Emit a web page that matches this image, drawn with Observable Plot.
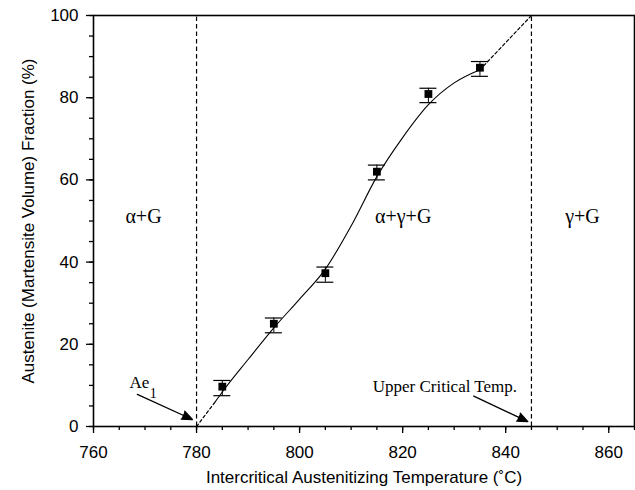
<!DOCTYPE html>
<html>
<head>
<meta charset="utf-8">
<script src="https://cdn.jsdelivr.net/npm/d3@7"></script>
<script src="https://cdn.jsdelivr.net/npm/@observablehq/plot@0.6"></script>
<style>
  html, body { margin: 0; padding: 0; background: #fff; }
  #chart svg { display: block; }
</style>
</head>
<body>
<div id="chart"></div>
<script>
// Measured data (temperature in °C, austenite fraction in %)
const temps = [785, 795, 805, 815, 825, 835];
const fraction = [9.7, 25.0, 37.3, 62.0, 80.9, 87.3];
const errHi = [11.2, 26.4, 38.8, 63.6, 82.3, 88.8];
const errLo = [7.5, 22.8, 35.1, 60.0, 78.8, 85.2];

// Fitted curve
const curveT = [783.5, 785, 790, 795, 800, 805, 810, 815, 820, 825, 830, 835];
const curveV = [5.8, 8.4, 16.3, 24.0, 31.0, 38.3, 48.8, 60.8, 70.3, 78.3, 83.6, 86.8];

// Extrapolated dotted segments
const dotLowT = [780, 783.5];
const dotLowV = [0, 5.8];
const dotHighT = [835, 845];
const dotHighV = [86.8, 100];

// Phase boundaries
const boundaries = [780, 845];

// Region labels
const regionLabels = ["α+G", "α+γ+G", "γ+G"];
const regionT = [769.7, 820.1, 854.9];
const regionV = [51, 51, 51];

// Arrow annotations
const arrowT1 = [768.5, 833.8];
const arrowV1 = [7.8, 7.4];
const arrowT2 = [779.2, 844.3];
const arrowV2 = [1.7, 1.2];

// Annotation text
const annText = ["Ae", "1", "Upper Critical Temp."];
const annT = [768.9, 771.6, 828.2];
const annV = [10.8, 8.0, 9.6];
const annSize = [17, 14, 17];

const xMajor = d3.range(760, 861, 20);
const xMinor = d3.range(760, 866, 5);
const yMajor = d3.range(0, 101, 20);
const yMinor = d3.range(0, 101, 5);

const points = temps.map((t, i) => ({t, v: fraction[i], hi: errHi[i], lo: errLo[i]}));
const curve = curveT.map((t, i) => ({t, v: curveV[i]}));
const dotLow = dotLowT.map((t, i) => ({t, v: dotLowV[i]}));
const dotHigh = dotHighT.map((t, i) => ({t, v: dotHighV[i]}));
const regions = regionLabels.map((s, i) => ({s, t: regionT[i], v: regionV[i]}));
const arrows = arrowT1.map((t, i) => ({t1: t, v1: arrowV1[i], t2: arrowT2[i], v2: arrowV2[i]}));
const anns = annText.map((s, i) => ({s, t: annT[i], v: annV[i], size: annSize[i]}));
const capHalf = 1.65;

const serif = "'Liberation Serif', 'Times New Roman', serif";
const sans = "'Liberation Sans', Arial, Helvetica, sans-serif";

const plot = Plot.plot({
  width: 635,
  height: 490,
  marginLeft: 93,
  marginRight: 1,
  marginTop: 15,
  marginBottom: 64,
  style: {fontFamily: sans, fontSize: "16.5px", color: "black", background: "white"},
  x: {domain: [760, 865]},
  y: {domain: [0, 100]},
  marks: [
    Plot.axisX({ticks: xMinor, tickSize: 4, text: null, strokeWidth: 1.3}),
    Plot.axisX({ticks: xMajor, tickSize: 7, tickPadding: 12, strokeWidth: 1.3, fontSize: 17,
      label: "Intercritical Austenitizing Temperature (˚C)", labelAnchor: "center", labelArrow: "none", labelOffset: 56}),
    Plot.axisY({ticks: yMinor, tickSize: 4, text: null, strokeWidth: 1.3}),
    Plot.axisY({ticks: yMajor, tickSize: 7, tickPadding: 8, strokeWidth: 1.3, fontSize: 17,
      label: "Austenite (Martensite Volume) Fraction (%)", labelAnchor: "center", labelArrow: "none", labelOffset: 72}),
    Plot.frame({stroke: "black", strokeWidth: 1.6}),
    Plot.ruleX(boundaries, {x: d => d, y1: 0, y2: 100, stroke: "black", strokeWidth: 1.2, strokeDasharray: "4.5,3"}),
    Plot.line(dotLow, {x: "t", y: "v", stroke: "black", strokeWidth: 1.2, strokeDasharray: "3,2.5"}),
    Plot.line(dotHigh, {x: "t", y: "v", stroke: "black", strokeWidth: 1.2, strokeDasharray: "3,2.5"}),
    Plot.line(curve, {x: "t", y: "v", curve: "monotone-x", stroke: "black", strokeWidth: 1.1}),
    Plot.ruleX(points, {x: "t", y1: "lo", y2: "hi", stroke: "black", strokeWidth: 1}),
    Plot.ruleY(points, {y: "hi", x1: d => d.t - capHalf, x2: d => d.t + capHalf, stroke: "black", strokeWidth: 1.2}),
    Plot.ruleY(points, {y: "lo", x1: d => d.t - capHalf, x2: d => d.t + capHalf, stroke: "black", strokeWidth: 1.2}),
    Plot.dot(points, {x: "t", y: "v", symbol: "square", r: 4.4, fill: "black", stroke: "none"}),
    Plot.text(regions, {x: "t", y: "v", text: "s", fontFamily: serif, fontSize: 20, fill: "black"}),
    Plot.text(anns, {x: "t", y: "v", text: "s", fontFamily: serif, fontSize: d => d.size, fill: "black"}),
    Plot.arrow(arrows, {x1: "t1", y1: "v1", x2: "t2", y2: "v2", stroke: "black",
      strokeWidth: 1.3, headLength: 13, headAngle: 45, strokeLinejoin: "miter"})
  ]
});
// fill the arrow heads (the head sub-path closes into a triangle)
d3.select(plot).selectAll("g[aria-label='arrow']").attr("fill", "black").style("fill", "black");
d3.select(plot).selectAll("g[aria-label='arrow'] path").attr("fill", "black").style("fill", "black");
document.getElementById("chart").appendChild(plot);
</script>
</body>
</html>
